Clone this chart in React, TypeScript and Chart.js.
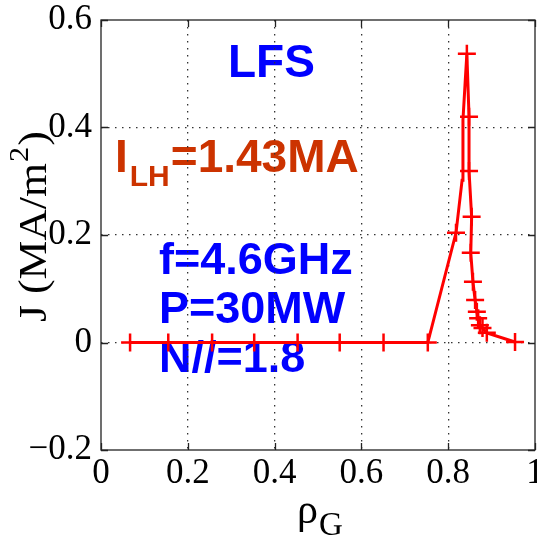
import React, { useEffect, useRef } from "react";
import { Chart, registerables } from "chart.js";

Chart.register(...registerables);

const rho = [0.067, 0.155, 0.256, 0.353, 0.453, 0.55, 0.651, 0.753, 0.818, 0.832, 0.834, 0.839, 0.843, 0.848, 0.848, 0.854, 0.852, 0.857, 0.862, 0.866, 0.869, 0.873, 0.879, 0.889, 0.954];
const J = [0, 0, 0, 0, 0, 0, 0, 0, 0.204, 0.302, 0.414, 0.483, 0.537, 0.42, 0.319, 0.234, 0.167, 0.113, 0.079, 0.057, 0.045, 0.032, 0.027, 0.018, 0.001];
const hasMarker = [1, 1, 1, 1, 1, 1, 1, 1, 1, 0, 0, 0, 1, 1, 1, 1, 1, 1, 1, 1, 1, 1, 1, 1, 1];
const xTicks = [0, 0.2, 0.4, 0.6, 0.8, 1];
const yTicks = [-0.2, 0, 0.2, 0.4, 0.6];

const fmt = (v: number) => {
  const r = Math.round(v * 10) / 10;
  if (r === 0) return "0";
  if (r === 1) return "1";
  const s = Math.abs(r).toFixed(1);
  return r < 0 ? "\u2212" + s : s;
};

const SERIF = "'Liberation Serif', 'Times New Roman', serif";
const SANS = "'Liberation Sans', Arial, sans-serif";

const textPlugin = {
  id: "texts",
  beforeDraw(chart: any) {
    const ctx = chart.ctx;
    ctx.save();
    ctx.textBaseline = "alphabetic";
    ctx.textAlign = "left";
    ctx.fillStyle = "#0000ff";
    ctx.font = `bold 46px ${SANS}`;
    ctx.fillText("LFS", 228, 77);
    ctx.fillStyle = "#cc3300";
    ctx.font = `bold 46px ${SANS}`;
    ctx.fillText("I", 115, 172);
    let x = 115 + ctx.measureText("I").width + 2;
    ctx.font = `bold 30px ${SANS}`;
    ctx.fillText("LH", x, 186);
    x += ctx.measureText("LH").width + 1;
    ctx.font = `bold 46px ${SANS}`;
    ctx.fillText("=1.43MA", x, 172);
    ctx.fillStyle = "#0000ff";
    ctx.font = `bold 45px ${SANS}`;
    ctx.fillText("f=4.6GHz", 159, 274);
    ctx.fillText("P=30MW", 159, 323);
    ctx.fillText("N//=1.8", 159, 372);
    ctx.restore();
  },
  afterDraw(chart: any) {
    const ctx = chart.ctx;
    const a = chart.chartArea;
    const xs = chart.scales.x;
    const ys = chart.scales.y;
    ctx.save();
    ctx.strokeStyle = "#222";
    ctx.lineWidth = 1.3;
    ctx.strokeRect(a.left, a.top, a.right - a.left, a.bottom - a.top);
    ctx.beginPath();
    xTicks.forEach((t) => {
      const px = Math.round(xs.getPixelForValue(t)) + 0.5;
      ctx.moveTo(px, a.bottom);
      ctx.lineTo(px, a.bottom - 7);
      ctx.moveTo(px, a.top);
      ctx.lineTo(px, a.top + 7);
    });
    yTicks.forEach((t) => {
      const py = Math.round(ys.getPixelForValue(t)) + 0.5;
      ctx.moveTo(a.left, py);
      ctx.lineTo(a.left + 7, py);
      ctx.moveTo(a.right, py);
      ctx.lineTo(a.right - 7, py);
    });
    ctx.stroke();
    ctx.fillStyle = "#000";
    ctx.textBaseline = "alphabetic";
    ctx.textAlign = "left";
    ctx.font = `42px ${SERIF}`;
    ctx.fillText("\u03c1", 297, 523);
    ctx.font = `33px ${SERIF}`;
    ctx.fillText("G", 319, 535);
    ctx.translate(46, 322);
    ctx.rotate(-Math.PI / 2);
    ctx.scale(1.12, 1);
    ctx.font = `39px ${SERIF}`;
    ctx.fillText("J (MA/m", 0, 0);
    let w = ctx.measureText("J (MA/m").width;
    ctx.font = `27px ${SERIF}`;
    ctx.fillText("2", w + 1, -18);
    w += ctx.measureText("2").width + 2;
    ctx.font = `39px ${SERIF}`;
    ctx.fillText(")", w, 0);
    ctx.restore();
  },
};

const zeroPad = (s: any) => {
  s.paddingLeft = 0;
  s.paddingRight = 0;
  s.paddingTop = 0;
  s.paddingBottom = 0;
  s.getPadding = () => ({ left: 0, top: 0, right: 0, bottom: 0 });
};

export default function App() {
  const ref = useRef<HTMLCanvasElement | null>(null);
  useEffect(() => {
    if (!ref.current) return;
    const gridColor = (c: any) => {
      const v = c.tick ? c.tick.value : 0;
      const sc = c.scale;
      if (Math.abs(v - sc.min) < 1e-6 || Math.abs(v - sc.max) < 1e-6) return "rgba(0,0,0,0)";
      return "#333";
    };
    const chart = new Chart(ref.current, {
      type: "line",
      data: {
        datasets: [
          {
            data: rho.map((r, i) => ({ x: r, y: J[i] })),
            borderColor: "#ff0000",
            backgroundColor: "#ff0000",
            borderWidth: 3,
            pointStyle: "cross",
            pointRadius: hasMarker.map((m) => (m ? 9 : 0)),
            pointBorderWidth: 2.5,
            pointBorderColor: "#ff0000",
            tension: 0,
            fill: false,
          },
        ],
      },
      options: {
        animation: false,
        responsive: false,
        maintainAspectRatio: false,
        layout: { padding: { top: 20, right: 2, left: 0, bottom: 0 }, autoPadding: false },
        plugins: { legend: { display: false }, tooltip: { enabled: false } },
        scales: {
          x: {
            type: "linear",
            min: 0,
            max: 1,
            afterBuildTicks: (s: any) => {
              s.ticks = xTicks.map((v) => ({ value: v }));
            },
            afterFit: (s: any) => {
              s.height = 89;
              zeroPad(s);
            },
            ticks: {
              callback: (v: any) => fmt(Number(v)),
              font: { family: SERIF, size: 35 },
              color: "#000",
              padding: 3,
              maxRotation: 0,
              autoSkip: false,
            },
            grid: { color: gridColor, lineWidth: 1.3, drawTicks: false },
            border: { display: false, dash: [1.5, 5.5] },
          },
          y: {
            type: "linear",
            min: -0.2,
            max: 0.6,
            afterBuildTicks: (s: any) => {
              s.ticks = yTicks.map((v) => ({ value: v }));
            },
            afterFit: (s: any) => {
              s.width = 101;
              zeroPad(s);
            },
            ticks: {
              callback: (v: any) => fmt(Number(v)),
              font: { family: SERIF, size: 35 },
              color: "#000",
              padding: 9,
              autoSkip: false,
            },
            grid: { color: gridColor, lineWidth: 1.3, drawTicks: false },
            border: { display: false, dash: [1.5, 5.5] },
          },
        },
      },
      plugins: [textPlugin],
    });
    return () => chart.destroy();
  }, []);
  return (
    <div style={{ position: "absolute", left: 0, top: 0, width: 537, height: 539, background: "#fff" }}>
      <canvas ref={ref} width={537} height={539} style={{ width: 537, height: 539 }} />
    </div>
  );
}
